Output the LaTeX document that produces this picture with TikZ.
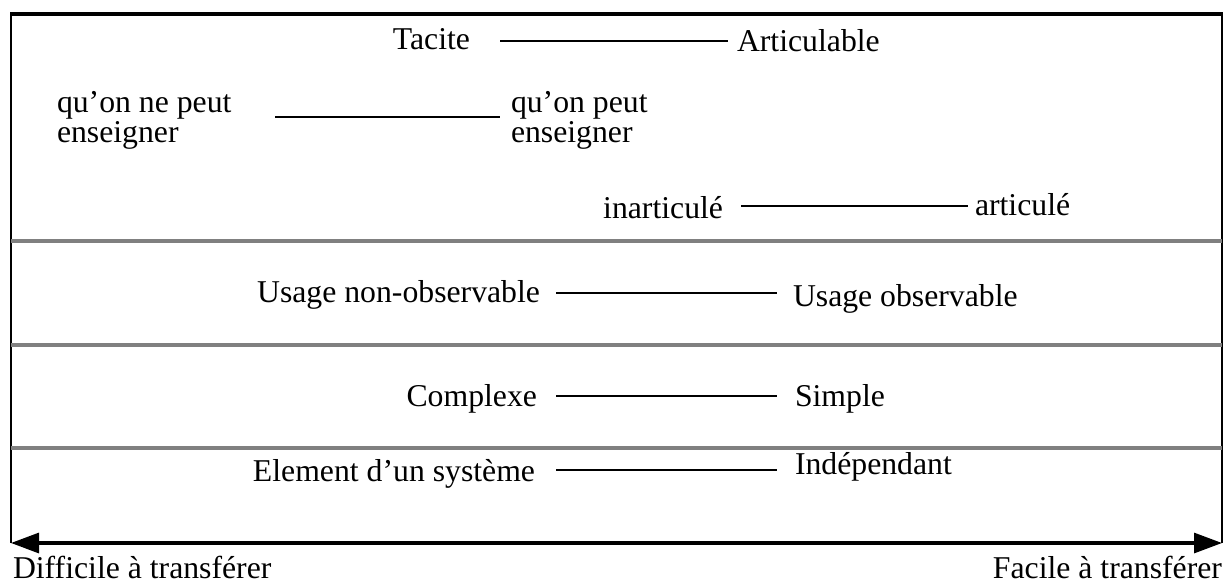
\documentclass[tikz,border=0pt]{standalone}
\usepackage{fontspec}
\setmainfont{Liberation Serif}
\usetikzlibrary{arrows.meta,calc}
\definecolor{rulegray}{RGB}{128,128,128}
\tikzset{
  lbl/.style={inner sep=0pt,outer sep=0pt,font=\fontsize{23.8}{22.5}\selectfont},
  link/.style={line width=1.9pt,black},
  frame/.style={line width=1.6pt,black},
  divider/.style={line width=2.4pt,rulegray},
  transfer/.style={line width=2.3pt,black,{Triangle[length=21pt,width=15pt]}-{Triangle[length=21pt,width=15pt]}}
}
\begin{document}
\begin{tikzpicture}[x=0.75pt,y=-0.75pt]
\useasboundingbox (0,0) rectangle (1227,585);

% frame and section dividers
\draw[line width=2.3pt] (10,14) -- (1223,14);
\draw[frame] (11,14) -- (11,543);
\draw[frame] (1222,14) -- (1222,543);
\draw[divider] (11,241) -- (1222,241);
\draw[divider] (11,345) -- (1222,345);
\draw[divider] (11,448) -- (1222,448);

% transfer scale
\coordinate (hard) at (11,543);
\coordinate (easy) at (1222,543);
\draw[transfer] (hard) -- (easy);
\node[lbl,anchor=base west] (diff) at (13,578) {Difficile à transférer};
\node[lbl,anchor=base east] (fac) at (1222,578) {Facile à transférer};

% first section (two-line labels are anchored on their last line)
\node[lbl,anchor=base east] (tac) at (470,50) {Tacite};
\node[lbl,anchor=base west] (art) at (737,52) {Articulable};
\node[lbl,anchor=base west,align=left] (nens) at (57,142) {qu’on ne peut\\enseigner};
\node[lbl,anchor=base west,align=left] (ens) at (511,142) {qu’on peut\\enseigner};
\node[lbl,anchor=base east] (inart) at (723,218) {inarticulé};
\node[lbl,anchor=base west] (artc) at (975,215) {articulé};

% other sections
\node[lbl,anchor=base east] (nobs) at (540,302) {Usage non-observable};
\node[lbl,anchor=base west] (obs) at (793,306) {Usage observable};
\node[lbl,anchor=base east] (cplx) at (537,406) {Complexe};
\node[lbl,anchor=base west] (simp) at (795,406) {Simple};
\node[lbl,anchor=base east] (elem) at (535,481) {Element d’un système};
\node[lbl,anchor=base west] (indep) at (795,474) {Indépendant};

% connectors between the opposite poles
\draw[link] let \p1=($(tac.base east)+(30,-9)$), \p2=($(art.west)+(-9,0)$) in (\x1,\y1) -- (\x2,\y1);
\draw[link] let \p1=($(nens.base west)+(218,-25)$), \p2=($(ens.west)+(-11,0)$) in (\x1,\y1) -- (\x2,\y1);
\draw[link] let \p1=($(inart.base east)+(18,-12)$), \p2=($(artc.west)+(-7,0)$) in (\x1,\y1) -- (\x2,\y1);
\draw[link] let \p1=($(nobs.base east)+(16,-9)$), \p2=($(obs.west)+(-16,0)$) in (\x1,\y1) -- (\x2,\y1);
\draw[link] let \p1=($(cplx.base east)+(19,-10)$), \p2=($(simp.west)+(-18,0)$) in (\x1,\y1) -- (\x2,\y1);
\draw[link] let \p1=($(elem.base east)+(21,-11)$), \p2=($(indep.west)+(-18,0)$) in (\x1,\y1) -- (\x2,\y1);
\end{tikzpicture}
\end{document}
